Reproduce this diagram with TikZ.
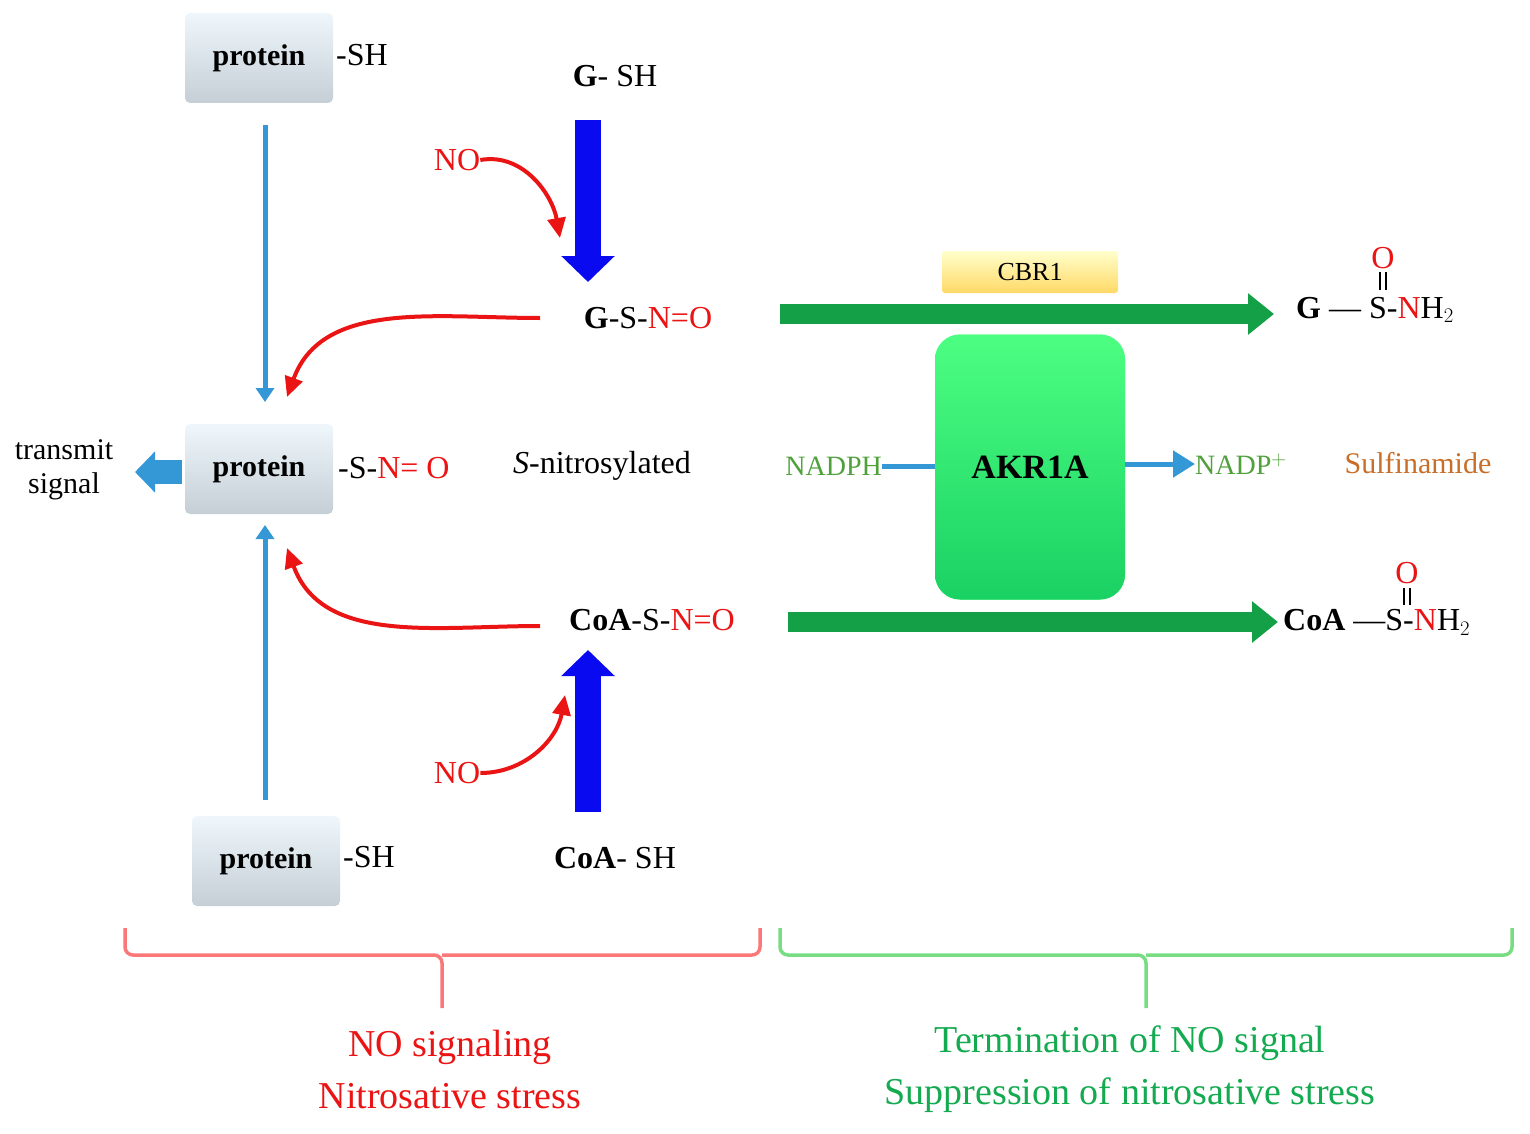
\documentclass[tikz,border=0pt]{standalone}
\usepackage{fontspec}
\setmainfont{Liberation Serif}
\usetikzlibrary{arrows.meta,shapes.geometric}
\definecolor{lblue}{RGB}{52,152,214}
\definecolor{dblue}{RGB}{10,10,240}
\definecolor{gr}{RGB}{20,160,70}
\definecolor{nred}{RGB}{235,20,20}
\definecolor{tgreen}{RGB}{80,160,60}
\definecolor{sorange}{RGB}{200,110,40}
\definecolor{bred}{RGB}{250,120,120}
\definecolor{bgreen}{RGB}{120,220,130}
\definecolor{tgreen2}{RGB}{20,170,80}
\tikzset{
 prot/.style={rounded corners=5pt,minimum width=148pt,minimum height=90pt,top color=white!80!lblue!40,bottom color=lblue!25!gray!40,draw=none,font=\fontsize{30}{30}\selectfont\bfseries},
 lab/.style={font=\fontsize{32}{32}\selectfont,inner sep=0pt},
 smalllab/.style={font=\fontsize{28}{28}\selectfont,inner sep=0pt},
 larr/.style={draw=lblue,line width=5pt,-{Triangle[length=14pt,width=18pt]}},
 barr/.style={draw=dblue,line width=26pt,-{Triangle[length=26pt,width=52pt]}},
 garr/.style={draw=gr,line width=20pt,-{Triangle[length=26pt,width=40pt]}},
 rarr/.style={draw=nred,line width=4pt,-{Triangle[length=20pt,width=18pt]}},
 brace/.style={line width=3.5pt,rounded corners=8pt}
}
\begin{document}
\begin{tikzpicture}[x=1pt,y=-1pt]
\useasboundingbox (0,0) rectangle (1530,1134);
% protein boxes
\node[prot] (p1) at (259,58) {protein};
\node[prot] (p2) at (259,469) {protein};
\node[prot] (p3) at (266,861) {protein};
\node[lab,anchor=west] (sh1) at (336,55) {-SH};
\node[lab,anchor=west] (sh3) at (343,857) {-SH};
\node[lab,anchor=west] (sno) at (338,468) {-S-\textcolor{nred}{N= O}};
\node[lab] (snit) at (602,466) {\textit{S}-nitrosylated};
\coordinate (a1s) at (265,125); \coordinate (a1e) at (265,402);
\draw[larr] (a1s) -- (a1e);
\coordinate (a2s) at (265,800); \coordinate (a2e) at (265,525);
\draw[larr] (a2s) -- (a2e);
\coordinate (ts) at (182,472); \coordinate (te) at (135,472);
\draw[draw=lblue,line width=24pt,-{Triangle[length=20pt,width=40pt]}] (ts) -- (te);
\node[smalllab,align=center,font=\fontsize{30}{34}\selectfont] (trans) at (64,470) {transmit\\signal};
% G-SH
\node[lab] (gsh) at (615,76) {\textbf{G}- SH};
\coordinate (b1s) at (588,120); \coordinate (b1e) at (588,282);
\draw[barr] (b1s) -- (b1e);
\node[lab,text=nred] (no1) at (457,160) {NO};
\coordinate (r1e) at (560,238);
\draw[rarr] (no1.east) to[out=10,in=100] (r1e);
\node[lab] (gsno) at (648,318) {\textbf{G}-S-\textcolor{nred}{N=O}};
\coordinate (r2e) at (287,397);
\draw[rarr] (540,318) to[out=180,in=70] (r2e);
% CoA
\node[lab] (coash) at (615,858) {\textbf{CoA}- SH};
\coordinate (b2s) at (588,812); \coordinate (b2e) at (588,650);
\draw[barr] (b2s) -- (b2e);
\node[lab,text=nred] (no2) at (457,773) {NO};
\coordinate (r3e) at (565,695);
\draw[rarr] (no2.east) to[out=0,in=-100] (r3e);
\node[lab] (coasno) at (652,620) {\textbf{CoA}-S-\textcolor{nred}{N=O}};
\coordinate (r4e) at (287,548);
\draw[rarr] (540,626) to[out=180,in=-70] (r4e);
% green arrows
\coordinate (g1s) at (780,314); \coordinate (g1e) at (1274,314);
\draw[garr] (g1s) -- (g1e);
\coordinate (g2s) at (788,622); \coordinate (g2e) at (1278,622);
\draw[garr] (g2s) -- (g2e);
% CBR1
\node[rounded corners=3pt,minimum width=176pt,minimum height=42pt,top color=yellow!20!white,bottom color=orange!50!yellow!60,font=\fontsize{26}{26}\selectfont] (cbr) at (1030,272) {CBR1};
% AKR1A
\node[rounded corners=25pt,minimum width=190pt,minimum height=265pt,top color=green!70!cyan!70,bottom color=green!60!cyan!80!black!90,fill=green!70!cyan!70,font=\fontsize{34}{34}\selectfont\bfseries] (akr) at (1030,467) {AKR1A};
\node[smalllab,text=tgreen,anchor=east] (nadph) at (882,466) {NADPH};
\draw[draw=lblue,line width=5pt] (nadph.east) -- (akr.west|-nadph.east);
\node[smalllab,text=tgreen,anchor=west] (nadp) at (1195,464) {NADP$^{+}$};
\draw[larr,-{Triangle[length=22pt,width=26pt]}] (akr.east|-nadp.west) -- (nadp.west);
\node[lab,text=sorange,font=\fontsize{30}{30}\selectfont] (sulf) at (1418,463) {Sulfinamide};
% products
\node[lab,anchor=west] (gprod) at (1296,310) {\textbf{G} --- S-\textcolor{nred}{N}H$_2$};
\node[lab,text=nred] (o1) at (1383,258) {O};
\draw[line width=1.5pt] (1380,272) -- (1380,290) (1386,272) -- (1386,290);
\node[lab,anchor=west] (cprod) at (1283,622) {\textbf{CoA} ---S-\textcolor{nred}{N}H$_2$};
\node[lab,text=nred] (o2) at (1407,573) {O};
\draw[line width=1.5pt] (1404,588) -- (1404,605) (1410,588) -- (1410,605);
% braces
\draw[brace,draw=bred] (125,928) |- (442,955) -- (442,1008);
\draw[brace,draw=bred] (760,928) |- (442,955);
\draw[brace,draw=bgreen] (780,928) |- (1146,955) -- (1146,1008);
\draw[brace,draw=bgreen] (1512,928) |- (1146,955);
\node[lab,text=nred,align=center,font=\fontsize{38}{52}\selectfont] (t1) at (450,1069) {NO signaling\\Nitrosative stress};
\node[lab,text=tgreen2,align=center,font=\fontsize{38}{52}\selectfont] (t2) at (1130,1069) {Termination of NO signal\\Suppression of nitrosative stress};
\end{tikzpicture}
\end{document}
